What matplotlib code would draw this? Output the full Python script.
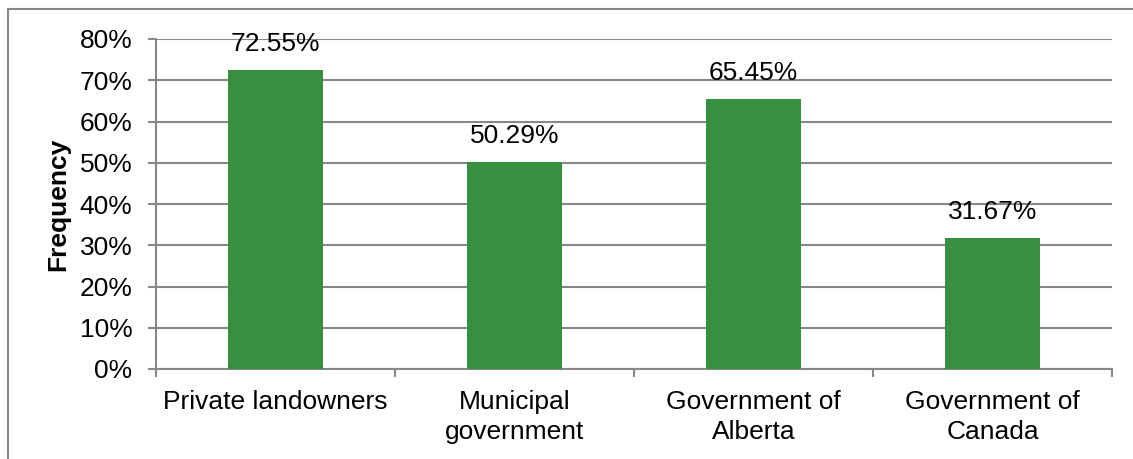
import numpy as np
import matplotlib.pyplot as plt
from matplotlib.patches import Rectangle
from matplotlib.ticker import FixedLocator, PercentFormatter

plt.rcParams['font.family'] = ['Liberation Sans', 'DejaVu Sans']

# Data
categories = ['Private landowners', 'Municipal\ngovernment',
              'Government of\nAlberta', 'Government of\nCanada']
values = [72.55, 50.29, 65.45, 31.67]

grey = '#878787'
green = '#388F41'
fs = 19

fig = plt.figure(figsize=(11.33, 4.59), dpi=100)
ax = fig.add_axes([156/1133, 1 - 369/459, (1112 - 156)/1133, (369 - 39)/459])

x = np.arange(len(categories))
ax.bar(x, values, width=0.4, color=green, zorder=3)

for xi, v in zip(x, values):
    ax.annotate(f'{v:.2f}%', (xi, v), xytext=(0, 10), textcoords='offset points',
                ha='center', va='bottom', fontsize=fs, color='black')

ax.set_xlim(-0.5, len(categories) - 0.5)
ax.set_ylim(0, 80)
ax.set_yticks(np.arange(0, 81, 10))
ax.yaxis.set_major_formatter(PercentFormatter(decimals=0))
ax.yaxis.grid(True, color=grey, linewidth=1.5, zorder=0)

ax.set_xticks(x)
ax.set_xticklabels(categories, fontsize=fs, linespacing=1.3)
ax.xaxis.set_minor_locator(FixedLocator(np.arange(-0.5, len(categories), 1)))
ax.tick_params(axis='x', which='major', length=0, pad=15)
ax.tick_params(axis='x', which='minor', length=6, width=1.5, color=grey, direction='out')
ax.tick_params(axis='y', length=6, width=1.5, color=grey, direction='out', labelsize=fs, pad=11)

for s in ['top', 'right']:
    ax.spines[s].set_visible(False)
for s in ['left', 'bottom']:
    ax.spines[s].set_color(grey)
    ax.spines[s].set_linewidth(1.5)

ax.set_ylabel('Frequency', fontsize=fs, fontweight='bold', labelpad=7)

# outer chart frame
fig.patches.append(Rectangle((8/1133, -0.1), 1.2, 1.1 - 9/459, transform=fig.transFigure,
                             fill=False, edgecolor=grey, linewidth=1.5))

fig.savefig('out.png', dpi=100)
